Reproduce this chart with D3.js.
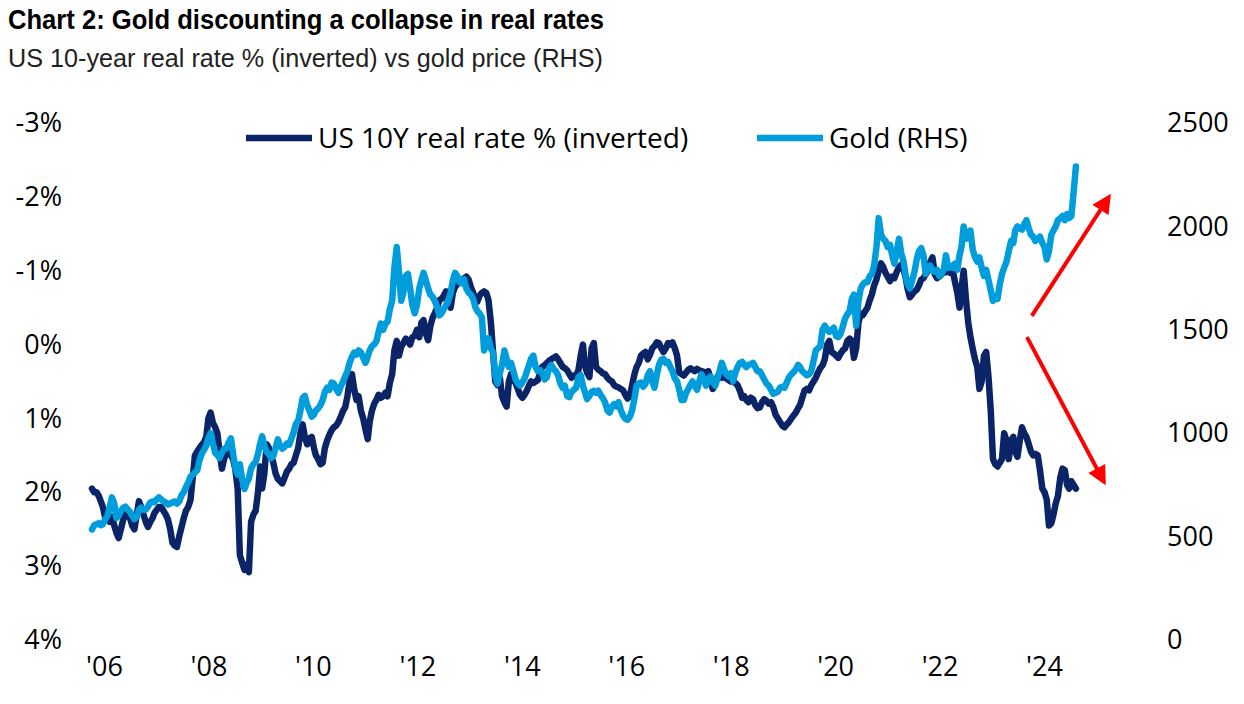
<!DOCTYPE html>
<html>
<head>
<meta charset="utf-8">
<script src="https://cdn.jsdelivr.net/npm/d3@7"></script>
<style>
  html, body { margin: 0; padding: 0; background: #fff; }
  svg { display: block; }
</style>
</head>
<body>
<svg id="chart" width="1244" height="704"></svg>
<script>
// ---------------- DATA (semi-monthly, starting Jan 2006) ----------------
const startYear = 2006;

// US 10Y real rate, % (plotted inverted on left axis)
const realRate = [
  // 2006
  1.95, 2.0, 2.0, 2.05, 2.12, 2.2, 2.35, 2.3, 2.4, 2.33, 2.45, 2.55, 2.62, 2.5, 2.37, 2.3, 2.24, 2.35, 2.45, 2.5, 2.3, 2.12, 2.2, 2.3,
  // 2007
  2.4, 2.47, 2.4, 2.35, 2.28, 2.24, 2.2, 2.2, 2.25, 2.3, 2.37, 2.5, 2.68, 2.72, 2.74, 2.6, 2.47, 2.35, 2.25, 2.2, 2.1, 1.8, 1.5, 1.45,
  // 2008
  1.4, 1.36, 1.32, 1.25, 1.0, 0.92, 1.06, 1.12, 1.2, 1.45, 1.68, 1.55, 1.45, 1.45, 1.5, 1.55, 1.7, 1.95, 2.85, 2.95, 3.05, 2.98, 3.08, 2.4,
  // 2009
  2.3, 2.25, 2.0, 1.65, 1.95, 1.75, 1.35, 1.4, 1.5, 1.6, 1.75, 1.82, 1.85, 1.88, 1.8, 1.72, 1.68, 1.62, 1.6, 1.5, 1.4, 1.2, 1.08, 1.25,
  // 2010
  1.35, 1.27, 1.25, 1.4, 1.5, 1.55, 1.62, 1.6, 1.4, 1.3, 1.22, 1.16, 1.12, 1.1, 1.05, 0.98, 0.9, 0.85, 0.7, 0.5, 0.4, 0.6, 0.75, 0.7,
  // 2011
  0.9, 1.0, 1.15, 1.28, 1.05, 0.9, 0.8, 0.75, 0.68, 0.72, 0.7, 0.65, 0.7, 0.52, 0.4, 0.08, -0.05, 0.15, 0.03, -0.02, -0.08, -0.05, 0.0, -0.1,
  // 2012
  -0.12, -0.2, -0.1, -0.3, -0.33, -0.15, -0.06, -0.25, -0.36, -0.42, -0.5, -0.6, -0.62, -0.66, -0.72, -0.55, -0.5, -0.7, -0.78, -0.82, -0.86, -0.85, -0.9, -0.92,
  // 2013
  -0.88, -0.78, -0.7, -0.62, -0.58, -0.66, -0.7, -0.72, -0.7, -0.6, -0.3, 0.1, 0.5, 0.55, 0.45, 0.7, 0.78, 0.84, 0.5, 0.4, 0.48, 0.52, 0.6, 0.68,
  // 2014
  0.72, 0.68, 0.62, 0.55, 0.5, 0.52, 0.5, 0.48, 0.38, 0.3, 0.28, 0.25, 0.22, 0.2, 0.18, 0.16, 0.2, 0.25, 0.3, 0.32, 0.35, 0.4, 0.45, 0.42,
  // 2015
  0.42, 0.35, 0.15, 0.0, 0.28, 0.38, 0.44, 0.05, -0.02, 0.3, 0.34, 0.36, 0.39, 0.4, 0.45, 0.48, 0.5, 0.55, 0.57, 0.58, 0.6, 0.62, 0.68, 0.73,
  // 2016
  0.7, 0.55, 0.4, 0.3, 0.25, 0.15, 0.12, 0.1, 0.2, 0.14, 0.05, 0.02, -0.03, -0.02, 0.05, 0.1, 0.05, -0.02, 0.0, -0.03, 0.05, 0.15, 0.38, 0.4,
  // 2017
  0.42, 0.38, 0.34, 0.32, 0.34, 0.36, 0.33, 0.35, 0.36, 0.37, 0.38, 0.36, 0.45, 0.6, 0.55, 0.44, 0.4, 0.45, 0.42, 0.46, 0.48, 0.5, 0.5, 0.52,
  // 2018
  0.55, 0.62, 0.72, 0.7, 0.75, 0.78, 0.72, 0.74, 0.82, 0.86, 0.85, 0.78, 0.74, 0.76, 0.8, 0.78, 0.85, 0.95, 1.0, 1.05, 1.1, 1.12, 1.08, 1.05,
  // 2019
  1.0, 0.96, 0.92, 0.86, 0.82, 0.72, 0.62, 0.6, 0.62, 0.55, 0.5, 0.45, 0.38, 0.32, 0.28, 0.2, 0.0, -0.05, 0.1, 0.12, 0.15, 0.18, 0.12, 0.08,
  // 2020
  0.05, -0.05, -0.08, -0.05, 0.18, 0.05, -0.3, -0.42, -0.4, -0.45, -0.5, -0.6, -0.68, -0.8, -0.88, -1.0, -1.1, -1.05, -0.97, -0.92, -0.86, -0.92, -0.9, -0.98,
  // 2021
  -1.05, -1.08, -1.02, -0.9, -0.75, -0.64, -0.68, -0.72, -0.74, -0.8, -0.88, -0.9, -0.95, -1.0, -1.12, -1.18, -0.95, -0.9, -0.92, -0.95, -1.0, -0.98, -1.0, -0.97,
  // 2022
  -1.0, -0.85, -0.7, -0.5, -0.75, -1.0, -0.6, -0.3, -0.1, 0.05, 0.2, 0.3, 0.6, 0.5, 0.15, 0.1, 0.45, 0.9, 1.55, 1.62, 1.65, 1.6, 1.55, 1.2,
  // 2023
  1.3, 1.55, 1.3, 1.25, 1.45, 1.52, 1.3, 1.12, 1.2, 1.25, 1.35, 1.45, 1.5, 1.48, 1.5, 1.7, 1.95, 2.0, 2.1, 2.45, 2.42, 2.3, 2.15, 2.05,
  // 2024
  1.8, 1.68, 1.7, 1.9, 1.95, 1.85, 1.9, 1.95
];

// Gold price, USD/oz (right axis)
const gold = [
  // 2006
  535, 555, 560, 565, 555, 560, 585, 600, 640, 690, 660, 590, 600, 625, 640, 645, 630, 620, 600, 585, 595, 630, 640, 630,
  // 2007
  630, 645, 665, 670, 665, 680, 690, 680, 670, 665, 655, 660, 665, 670, 660, 670, 700, 715, 740, 760, 790, 800, 810, 820,
  // 2008
  870, 900, 920, 940, 975, 1000, 950, 905, 895, 880, 905, 925, 925, 955, 975, 900, 830, 800, 850, 780, 730, 760, 780, 830,
  // 2009
  850, 860, 900, 950, 985, 940, 910, 900, 880, 890, 930, 970, 940, 925, 935, 950, 945, 975, 1005, 1045, 1060, 1110, 1170, 1180,
  // 2010
  1135, 1110, 1080, 1090, 1110, 1120, 1135, 1160, 1200, 1220, 1210, 1245, 1240, 1215, 1195, 1225, 1250, 1275, 1300, 1340, 1370, 1390, 1380, 1400,
  // 2011
  1390, 1365, 1340, 1370, 1400, 1420, 1430, 1445, 1490, 1530, 1500, 1530, 1540, 1600, 1640, 1800, 1900, 1780, 1640, 1680, 1760, 1770, 1700, 1620,
  // 2012
  1580, 1620, 1700, 1740, 1775, 1740, 1700, 1670, 1660, 1640, 1610, 1570, 1580, 1600, 1620, 1640, 1680, 1740, 1775, 1760, 1730, 1725, 1745, 1700,
  // 2013
  1680, 1670, 1650, 1610, 1590, 1580, 1560, 1400, 1440, 1460, 1410, 1390, 1280, 1240, 1290, 1330, 1400, 1360, 1320, 1340, 1300, 1260, 1240, 1230,
  // 2014
  1245, 1265, 1300, 1330, 1360, 1375, 1320, 1300, 1305, 1290, 1260, 1270, 1315, 1330, 1310, 1300, 1280, 1240, 1220, 1230, 1180, 1175, 1200, 1210,
  // 2015
  1220, 1270, 1280, 1230, 1200, 1165, 1180, 1200, 1205, 1195, 1205, 1185, 1170, 1150, 1110, 1100, 1130, 1140, 1130, 1150, 1110, 1085, 1070, 1065,
  // 2016
  1080, 1110, 1170, 1230, 1240, 1245, 1225, 1240, 1280, 1300, 1250, 1220, 1280, 1330, 1355, 1360, 1340, 1345, 1320, 1300, 1265, 1250, 1210, 1160,
  // 2017
  1160, 1195, 1215, 1235, 1250, 1230, 1210, 1250, 1285, 1265, 1230, 1260, 1275, 1250, 1230, 1260, 1300, 1340, 1310, 1285, 1275, 1290, 1250, 1290,
  // 2018
  1320, 1340, 1345, 1330, 1320, 1330, 1335, 1340, 1320, 1300, 1300, 1280, 1260, 1240, 1230, 1210, 1190, 1195, 1200, 1220, 1225, 1220, 1245, 1270,
  // 2019
  1285, 1295, 1310, 1330, 1320, 1300, 1290, 1280, 1285, 1300, 1350, 1400, 1410, 1420, 1500, 1520, 1500, 1490, 1500, 1510, 1470, 1465, 1480, 1515,
  // 2020
  1555, 1575, 1590, 1650, 1670, 1520, 1640, 1700, 1720, 1730, 1730, 1760, 1770, 1810, 1900, 2040, 1960, 1940, 1930, 1900, 1910, 1860, 1820, 1880,
  // 2021
  1940, 1870, 1830, 1760, 1720, 1700, 1740, 1780, 1840, 1880, 1895, 1860, 1770, 1800, 1810, 1790, 1780, 1790, 1760, 1770, 1790, 1860, 1800, 1810,
  // 2022
  1800, 1820, 1790, 1860, 1900, 2000, 1940, 1950, 1980, 1890, 1850, 1830, 1850, 1800, 1760, 1790, 1740, 1690, 1640, 1660, 1650, 1720, 1770, 1800,
  // 2023
  1830, 1880, 1930, 1920, 1980, 2000, 1990, 1985, 2010, 2030, 1990, 1960, 1950, 1930, 1940, 1950, 1920, 1900, 1840, 1880, 1960, 1980, 2000, 2030,
  // 2024
  2040, 2050, 2030, 2060, 2040, 2050, 2170, 2290
];

const xTickLabels = ["'06", "'08", "'10", "'12", "'14", "'16", "'18", "'20", "'22", "'24"];
const leftTicks = [-3, -2, -1, 0, 1, 2, 3, 4];
const rightTicks = [0, 500, 1000, 1500, 2000, 2500];
const seriesNames = ["US 10Y real rate % (inverted)", "Gold (RHS)"];

// annotation arrows in data coordinates: [fromYear, fromValue, toYear, toValue]
const arrowUp = [2023.47, 1567, 2024.9, 2142];      // on gold axis
const arrowDown = [2023.38, -0.10, 2024.81, 1.86];  // on real-rate axis

// ---------------- DRAWING ----------------
const W = 1244, H = 704;
const colDark = "#0b2467";
const colLight = "#009ddd";
const svg = d3.select("#chart");
svg.append("rect").attr("width", W).attr("height", H).attr("fill", "#fff");

const dates = realRate.map((_, i) => new Date(startYear, Math.floor(i / 2), i % 2 ? 16 : 1));
const yearToDate = y => {
  const yr = Math.floor(y);
  const s = new Date(yr, 0, 1), e = new Date(yr + 1, 0, 1);
  return new Date(+s + (y - yr) * (e - s));
};

const x = d3.scaleTime()
  .domain([new Date(2006, 0, 1), new Date(2025, 0, 1)])
  .range([92, 92 + 19 * 53.8]);
const yL = d3.scaleLinear().domain([-3, 4]).range([123, 640]);
const yR = d3.scaleLinear().domain([0, 2500]).range([640, 123]);
const xLab = d3.scalePoint().domain(xTickLabels).range([104, 1044]);

// title
svg.append("text")
  .attr("x", 8).attr("y", 29)
  .attr("font-family", "'Liberation Sans Narrow', 'Arial Narrow', sans-serif")
  .attr("font-weight", "bold").attr("font-size", 27)
  .attr("textLength", 596).attr("lengthAdjust", "spacingAndGlyphs")
  .attr("fill", "#000")
  .text("Chart 2: Gold discounting a collapse in real rates");
svg.append("text")
  .attr("x", 8).attr("y", 67)
  .attr("font-family", "'Liberation Sans Narrow', 'Arial Narrow', sans-serif")
  .attr("font-size", 26)
  .attr("textLength", 595).attr("lengthAdjust", "spacingAndGlyphs")
  .attr("fill", "#222")
  .text("US 10-year real rate % (inverted) vs gold price (RHS)");

const tickFont = "'Open Sans', sans-serif";

// left axis
const gL = svg.append("g").attr("transform", "translate(62,0)")
  .call(d3.axisLeft(yL).tickValues(leftTicks).tickFormat(d => d + "%").tickSize(0).tickPadding(0));
// right axis
const gR = svg.append("g").attr("transform", "translate(1167,0)")
  .call(d3.axisRight(yR).tickValues(rightTicks).tickFormat(d3.format("d")).tickSize(0).tickPadding(0));
// bottom axis
const gB = svg.append("g").attr("transform", "translate(0,650)")
  .call(d3.axisBottom(xLab).tickSize(0).tickPadding(7));

[gL, gR, gB].forEach(g => {
  g.select(".domain").remove();
  g.selectAll("text").attr("font-family", tickFont).attr("font-size", 27).attr("fill", "#000");
});

// lines
const lineReal = d3.line().x((d, i) => x(dates[i])).y(d => yL(d));
const lineGold = d3.line().x((d, i) => x(dates[i])).y(d => yR(d));

svg.append("path").datum(realRate)
  .attr("d", lineReal).attr("fill", "none")
  .attr("stroke", colDark).attr("stroke-width", 6.5)
  .attr("stroke-linejoin", "round").attr("stroke-linecap", "round");
svg.append("path").datum(gold)
  .attr("d", lineGold).attr("fill", "none")
  .attr("stroke", colLight).attr("stroke-width", 6.5)
  .attr("stroke-linejoin", "round").attr("stroke-linecap", "round");

// legend
const legend = svg.append("g").attr("font-family", tickFont).attr("font-size", 28);
const legItems = [
  { name: seriesNames[0], color: colDark, x0: 246 },
  { name: seriesNames[1], color: colLight, x0: 757 }
];
legItems.forEach(it => {
  legend.append("line").attr("x1", it.x0).attr("x2", it.x0 + 66)
    .attr("y1", 138).attr("y2", 138)
    .attr("stroke", it.color).attr("stroke-width", 6.5);
  legend.append("text").attr("x", it.x0 + 72).attr("y", 138).attr("dy", "0.35em")
    .attr("fill", "#000").text(it.name);
});

// red arrows
const defs = svg.append("defs");
defs.append("marker").attr("id", "ah")
  .attr("viewBox", "0 0 10 10").attr("refX", 8).attr("refY", 5)
  .attr("markerWidth", 5.2).attr("markerHeight", 4.8)
  .attr("markerUnits", "strokeWidth")
  .attr("orient", "auto")
  .append("path").attr("d", "M0,0 L10,5 L0,10 Z").attr("fill", "#ff0000");

svg.append("line")
  .attr("x1", x(yearToDate(arrowUp[0]))).attr("y1", yR(arrowUp[1]))
  .attr("x2", x(yearToDate(arrowUp[2]))).attr("y2", yR(arrowUp[3]))
  .attr("stroke", "#ff0000").attr("stroke-width", 4).attr("marker-end", "url(#ah)");
svg.append("line")
  .attr("x1", x(yearToDate(arrowDown[0]))).attr("y1", yL(arrowDown[1]))
  .attr("x2", x(yearToDate(arrowDown[2]))).attr("y2", yL(arrowDown[3]))
  .attr("stroke", "#ff0000").attr("stroke-width", 4).attr("marker-end", "url(#ah)");
</script>
</body>
</html>
